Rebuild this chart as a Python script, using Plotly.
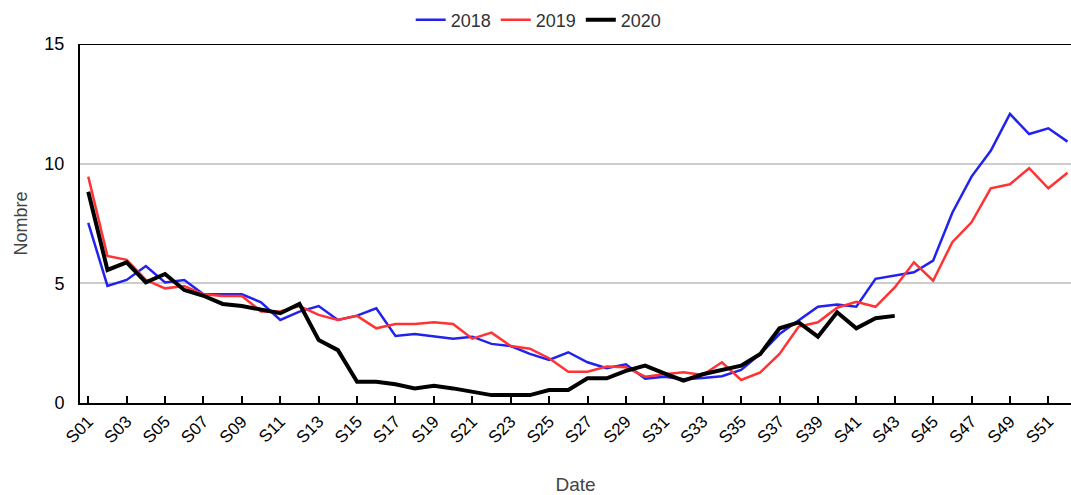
import plotly.graph_objects as go

# semaines S01..S52
semaines = [f"S{i:02d}" for i in range(1, 53)]

val_2018 = [7.53, 4.89, 5.14, 5.72, 5.04, 5.14, 4.54, 4.54, 4.54, 4.21,
            3.47, 3.82, 4.05, 3.47, 3.65, 3.96, 2.80, 2.88, 2.77, 2.69,
            2.77, 2.47, 2.38, 2.05, 1.80, 2.12, 1.70, 1.45, 1.62, 1.02,
            1.10, 0.99, 1.04, 1.12, 1.38, 2.05, 2.88, 3.44, 4.02, 4.12,
            4.02, 5.19, 5.31, 5.46, 5.95, 7.95, 9.46, 10.54, 12.08, 11.24,
            11.48, 10.92]

val_2019 = [9.46, 6.14, 5.98, 5.14, 4.79, 4.89, 4.54, 4.47, 4.47, 3.82,
            3.82, 4.05, 3.68, 3.47, 3.64, 3.12, 3.30, 3.30, 3.37, 3.30,
            2.69, 2.94, 2.38, 2.27, 1.87, 1.31, 1.31, 1.52, 1.49, 1.10,
            1.20, 1.28, 1.17, 1.70, 0.96, 1.28, 2.05, 3.19, 3.37, 3.98,
            4.23, 4.02, 4.83, 5.88, 5.11, 6.72, 7.55, 8.97, 9.14, 9.81,
            8.97, 9.62]

val_2020 = [8.83, 5.56, 5.88, 5.04, 5.39, 4.72, 4.48, 4.14, 4.05, 3.89,
            3.75, 4.14, 2.63, 2.21, 0.89, 0.89, 0.78, 0.61, 0.72, 0.61,
            0.45, 0.33, 0.33, 0.33, 0.54, 0.54, 1.03, 1.03, 1.34, 1.56,
            1.24, 0.93, 1.20, 1.38, 1.56, 2.05, 3.12, 3.37, 2.77, 3.79,
            3.12, 3.54, 3.64]

ticks_x = semaines[::2]
ticks_y = [0, 5, 10, 15]

fig = go.Figure()

fig.add_trace(go.Scatter(x=semaines, y=val_2018, mode='lines', name='2018',
                         line=dict(color='#2222ee', width=2.5)))
fig.add_trace(go.Scatter(x=semaines, y=val_2019, mode='lines', name='2019',
                         line=dict(color='#ff3333', width=2.5)))
fig.add_trace(go.Scatter(x=semaines[:len(val_2020)], y=val_2020, mode='lines', name='2020',
                         line=dict(color='#000000', width=4)))

# ligne du haut du cadre (sans bord droit)
fig.add_shape(type='line', xref='paper', x0=0, x1=1, yref='y', y0=15, y1=15,
              line=dict(color='black', width=2), layer='above')

fig.update_layout(
    width=1071, height=495,
    paper_bgcolor='white', plot_bgcolor='white',
    font=dict(family='Arial, Liberation Sans, sans-serif', color='#222222', size=17),
    margin=dict(l=80, r=0, t=44, b=92, autoexpand=False),
    showlegend=True,
    legend=dict(orientation='h', x=0.503, xanchor='center', xref='container',
                y=1 - 20 / 495, yanchor='middle', yref='container',
                font=dict(size=18, color='#333333')),
    hovermode='x',
)

fig.update_xaxes(
    type='category', categoryorder='array', categoryarray=semaines,
    range=[-0.43, 51.18], automargin=False,
    tickvals=ticks_x, ticktext=ticks_x, tickangle=-45,
    ticks='inside', ticklen=7, tickwidth=1.5, tickcolor='black',
    tickfont=dict(size=17, color='black'),
    showgrid=False, showline=True, linecolor='black', linewidth=2,
    title=dict(text='Date', font=dict(size=19, color='#444444'), standoff=32),
)
fig.update_yaxes(
    range=[0, 15], tickvals=ticks_y, automargin=False,
    tickfont=dict(size=18, color='black'),
    showgrid=True, gridcolor='#cccccc', gridwidth=2,
    zeroline=False, showline=True, linecolor='black', linewidth=2,
    ticks='', ticklabelstandoff=10,
    title=dict(text='Nombre', font=dict(size=18, color='#444444'), standoff=12),
)

fig.write_html("out.html", config={'displayModeBar': False},
               post_script="document.body.style.margin='0px';")
